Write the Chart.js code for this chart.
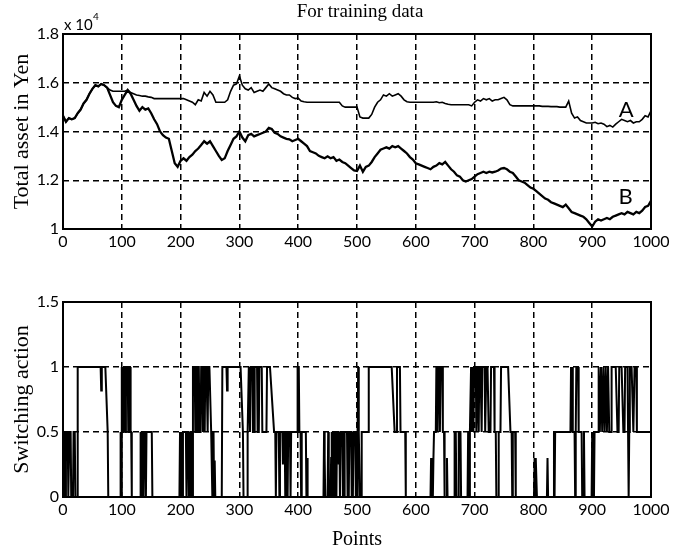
<!DOCTYPE html>
<html><head><meta charset="utf-8">
<script src="https://cdn.jsdelivr.net/npm/chart.js@4/dist/chart.umd.min.js"></script>
<style>
html,body{margin:0;padding:0;background:#fff;width:690px;height:554px;overflow:hidden}
#c1{position:absolute;left:0;top:0}
#c2{position:absolute;left:0;top:260px}
</style></head><body>
<canvas id="c1" width="690" height="260"></canvas>
<canvas id="c2" width="690" height="294"></canvas>
<script>
// ---------- DATA ----------
const titleText = "For training data";
const xTicks = [0,100,200,300,400,500,600,700,800,900,1000];
const assetTicks = [1,1.2,1.4,1.6,1.8];          // x 10^4 Yen
const switchTicks = [0,0.5,1,1.5];
const sampleStep = 5;                              // points between samples of the asset series

// Series A (total asset, x10^4 Yen), sampled every 5 points from 0 to 1000
const seriesA = [
 1.465,1.44,1.455,1.45,1.455,1.475,1.49,1.515,1.53,1.555,
 1.575,1.59,1.585,1.595,1.59,1.58,1.57,1.565,1.565,1.565,
 1.565,1.565,1.57,1.56,1.555,1.55,1.548,1.545,1.545,1.542,
 1.54,1.535,1.535,1.535,1.535,1.535,1.535,1.535,1.535,1.535,
 1.535,1.535,1.53,1.525,1.52,1.51,1.53,1.525,1.56,1.545,
 1.565,1.55,1.52,1.52,1.52,1.52,1.53,1.565,1.59,1.595,
 1.628,1.59,1.575,1.57,1.58,1.56,1.565,1.57,1.565,1.58,
 1.595,1.58,1.575,1.57,1.565,1.555,1.55,1.55,1.54,1.535,
 1.537,1.525,1.522,1.52,1.52,1.52,1.52,1.52,1.52,1.52,
 1.52,1.52,1.52,1.52,1.52,1.505,1.50,1.50,1.50,1.50,
 1.50,1.46,1.455,1.455,1.455,1.47,1.50,1.52,1.53,1.55,
 1.545,1.555,1.545,1.55,1.555,1.545,1.53,1.522,1.52,1.52,
 1.52,1.52,1.52,1.52,1.52,1.52,1.52,1.522,1.518,1.52,
 1.515,1.512,1.51,1.51,1.51,1.51,1.51,1.51,1.51,1.505,
 1.52,1.53,1.525,1.535,1.53,1.535,1.525,1.53,1.53,1.535,
 1.54,1.53,1.51,1.505,1.505,1.505,1.505,1.505,1.505,1.505,
 1.505,1.505,1.505,1.503,1.503,1.503,1.502,1.502,1.502,1.50,
 1.50,1.50,1.525,1.475,1.455,1.46,1.445,1.44,1.435,1.435,
 1.435,1.438,1.432,1.435,1.43,1.42,1.425,1.418,1.43,1.44,
 1.45,1.445,1.44,1.445,1.435,1.44,1.44,1.45,1.465,1.46,
 1.485
];
// Series B (total asset, x10^4 Yen), sampled every 5 points from 0 to 1000
const seriesB = [
 1.465,1.44,1.455,1.45,1.455,1.475,1.49,1.515,1.53,1.555,
 1.575,1.59,1.585,1.595,1.59,1.58,1.55,1.52,1.505,1.50,
 1.53,1.55,1.57,1.555,1.53,1.505,1.485,1.50,1.49,1.495,
 1.475,1.45,1.43,1.40,1.385,1.375,1.37,1.32,1.27,1.255,
 1.28,1.29,1.28,1.295,1.305,1.32,1.33,1.345,1.36,1.35,
 1.36,1.34,1.32,1.30,1.283,1.29,1.32,1.345,1.37,1.38,
 1.40,1.375,1.36,1.385,1.39,1.38,1.385,1.39,1.395,1.40,
 1.415,1.41,1.395,1.39,1.38,1.375,1.37,1.368,1.36,1.365,
 1.37,1.36,1.35,1.34,1.32,1.315,1.31,1.30,1.295,1.29,
 1.298,1.29,1.295,1.28,1.285,1.275,1.27,1.26,1.25,1.24,
 1.238,1.26,1.235,1.255,1.26,1.275,1.295,1.31,1.325,1.33,
 1.335,1.33,1.34,1.335,1.34,1.33,1.32,1.31,1.295,1.285,
 1.27,1.265,1.26,1.255,1.25,1.245,1.255,1.26,1.27,1.265,
 1.275,1.26,1.245,1.235,1.22,1.215,1.20,1.195,1.20,1.205,
 1.215,1.225,1.23,1.235,1.23,1.235,1.232,1.235,1.24,1.248,
 1.25,1.245,1.235,1.23,1.215,1.20,1.195,1.19,1.18,1.17,
 1.165,1.155,1.145,1.135,1.125,1.12,1.11,1.105,1.10,1.095,
 1.09,1.10,1.085,1.07,1.065,1.06,1.055,1.05,1.04,1.025,
 1.01,1.03,1.04,1.035,1.04,1.045,1.04,1.05,1.055,1.06,
 1.065,1.06,1.07,1.065,1.06,1.07,1.065,1.075,1.09,1.095,
 1.115
];
// Switching action: points (x) and values (y)
const switchPts = [0,1,3,4,5,8,9,10,11,13,14,17,18,20,21,24,25,64,65,66,72,76,77,97,98,99,100,101,102,103,104,106,107,110,111,112,114,115,116,117,131,132,133,134,136,137,138,140,141,142,151,152,198,199,200,201,203,204,209,210,211,213,214,216,217,219,220,221,224,225,226,228,229,231,232,234,235,237,238,239,241,242,244,246,247,249,252,253,254,255,256,257,258,259,270,271,278,279,280,302,306,307,313,314,316,318,319,322,323,325,326,330,331,333,334,338,339,346,347,352,359,361,362,363,367,368,369,373,374,375,377,378,379,381,382,383,386,387,388,398,399,401,402,404,405,406,413,414,415,416,443,444,445,446,450,451,452,455,456,457,458,459,461,462,463,464,465,466,468,469,470,471,472,475,476,478,479,483,484,486,487,490,491,493,494,497,498,500,501,502,503,505,507,508,519,520,559,564,567,568,573,574,582,583,625,626,627,628,629,630,631,634,635,637,638,640,641,642,645,646,648,649,652,653,654,665,666,668,669,672,673,676,677,688,689,691,692,694,695,697,698,699,702,703,705,707,708,710,712,713,717,718,720,722,724,727,728,733,734,736,737,740,741,744,745,757,761,763,764,765,769,770,801,802,803,804,806,823,824,825,834,835,836,837,863,864,865,866,867,870,871,872,873,876,877,882,883,885,886,887,899,900,901,902,903,904,910,911,913,915,917,919,921,923,925,927,929,932,933,940,943,945,946,950,953,955,956,960,961,962,963,964,967,970,972,975,976,1000];
const switchVals = [0,0.5,0.5,0,0.5,0.5,0,0,0.5,0.5,0,0,0.5,0.5,0,0,1,1,0.82,1,1,0.5,0,0,0.5,0,1,0.5,1,0.5,1,0.5,1,1,0.5,1,1,0.5,0.5,0,0,0.5,0,0.5,0.5,0,0.5,0.5,0,0.5,0.5,0,0,0.5,0,0.5,0,0.5,0.5,0,0.5,0.5,0,0,0.5,0.5,0,1,1,0.5,1,0.5,1,1,0.5,0.5,1,1,0.5,1,0.5,1,1,0.5,1,1,0.5,0.5,0,0.5,0.5,0,0.28,0,0,1,1,0.82,1,1,0.5,0,0,0.5,1,0.5,1,1,0.5,0.5,1,1,0.5,0.5,1,1,0.5,0.5,1,1,0.5,0.5,0,0.5,0.5,0,0.5,0.5,0.25,0.5,0.5,0,0.5,0.5,0,0.5,0.5,0,0.5,0.5,1,1,0.5,0.5,0,0.5,0.5,0,0.3,0,0,0.5,0.3,0,0,0.5,0,0,0.3,0.5,0,0.5,0.5,0,0.3,0.5,0,0.5,0.5,0.25,0.5,0,0.5,0.5,0,0,0.5,0.5,0,0,0.5,0.5,0,0,0.5,0.5,0,0,0.5,1,0.5,0,0,0.5,0.5,1,1,0.5,0.5,1,1,0.5,0.5,0,0,0.3,0,0.3,0,0.3,0.5,0.5,1,0.5,1,1,0.5,1,1,0.5,0.5,0,0,0.3,0,0,0.5,0.5,0,0,0.5,0.5,0,0,0.5,0,0.5,1,0.5,1,0.5,1,1,0.5,1,0.5,1,1,0.5,1,1,0.5,1,1,0.5,0.5,1,1,0.5,0.5,0,0,0.5,0.5,1,1,0.5,0.5,0,0.5,0.5,0,0,0.3,0,0.3,0,0,0.3,0,0,0.5,0,0.5,0.5,1,0.5,1,0.5,0.5,0,0.5,1,1,0.5,0.5,0,0,0.5,0,0,0.5,0,0.5,0,0.5,0.5,1,0.5,1,0.5,1,0.5,1,0.5,1,0.5,0.5,1,1,0.5,0.5,1,1,0.5,0.5,1,1,0.5,0,0.5,1,1,0.5,1,1,0.5,0.5];
const labelA = "A", labelB = "B";

// ---------- BUILD ----------
const toXY = (vals) => vals.map((v, i) => ({x: i * sampleStep, y: v}));
const switchData = switchPts.map((p, i) => ({x: p, y: switchVals[i]}));

const TICK_FONT = {family: "Lato, 'DejaVu Sans', sans-serif", size: 16};
const SERIF = "'Liberation Serif', 'Times New Roman', serif";

const boxPlugin = {
  id: 'box',
  afterDatasetsDraw(chart) {
    const {ctx, chartArea: a} = chart;
    ctx.save();
    ctx.strokeStyle = '#000'; ctx.lineWidth = 2; ctx.setLineDash([]);
    ctx.strokeRect(a.left, a.top, a.right - a.left, a.bottom - a.top);
    ctx.restore();
  }
};

const topText = {
  id: 'topText',
  afterDraw(chart) {
    const {ctx, scales: {x, y}} = chart;
    ctx.save();
    ctx.fillStyle = '#000';
    ctx.textAlign = 'center'; ctx.textBaseline = 'middle';
    ctx.font = "19px " + SERIF;
    ctx.fillText(titleText, 360, 12);
    ctx.textAlign = 'left'; ctx.textBaseline = 'alphabetic';
    ctx.font = "15px " + TICK_FONT.family;
    ctx.fillText("x 10", 64, 30);
    ctx.font = "10px " + TICK_FONT.family;
    ctx.fillText("4", 93, 20);
    ctx.font = "22px " + TICK_FONT.family;
    ctx.textAlign = 'center'; ctx.textBaseline = 'middle';
    ctx.fillText(labelA, x.getPixelForValue(958), y.getPixelForValue(1.488));
    ctx.fillText(labelB, x.getPixelForValue(957), y.getPixelForValue(1.13));
    ctx.restore();
  }
};

function xScale(withTitle) {
  return {
    type: 'linear', min: 0, max: 1000,
    afterBuildTicks: s => { s.ticks = xTicks.map(v => ({value: v})); },
    ticks: {color: '#000', font: TICK_FONT, padding: 3, maxRotation: 0, autoSkip: false, callback: v => String(v)},
    grid: {color: '#000', lineWidth: 1.5, drawTicks: false},
    border: {display: false, dash: [6, 4]},
    title: withTitle ? {display: true, text: 'Points', color: '#000', font: {family: SERIF, size: 20}, padding: {top: 0, bottom: 2}} : {display: false},
    afterFit: s => { s.height = withTitle ? 57 : 31; }
  };
}
function yScale(min, max, ticks, titleTxt) {
  return {
    type: 'linear', min: min, max: max,
    afterBuildTicks: s => { s.ticks = ticks.map(v => ({value: v})); },
    ticks: {color: '#000', font: TICK_FONT, padding: 4, callback: v => String(v)},
    grid: {color: '#000', lineWidth: 1.5, drawTicks: false},
    border: {display: false, dash: [6, 4]},
    title: {display: true, text: titleTxt, color: '#000', font: {family: SERIF, size: 22}, padding: {top: 9, bottom: 0}},
    afterFit: s => { s.width = 63; }
  };
}

new Chart(document.getElementById('c1'), {
  type: 'scatter',
  data: {datasets: [
    {label: labelA, data: toXY(seriesA), showLine: true, borderColor: '#000', borderWidth: 1.6, pointRadius: 0, tension: 0},
    {label: labelB, data: toXY(seriesB), showLine: true, borderColor: '#000', borderWidth: 2.3, pointRadius: 0, tension: 0}
  ]},
  options: {
    responsive: false, animation: false, devicePixelRatio: 1,
    layout: {padding: {top: 34, right: 39, left: 0, bottom: 0}},
    plugins: {legend: {display: false}, tooltip: {enabled: false}},
    scales: {x: xScale(false), y: yScale(1, 1.8, assetTicks, 'Total asset in Yen')}
  },
  plugins: [boxPlugin, topText]
});

new Chart(document.getElementById('c2'), {
  type: 'scatter',
  data: {datasets: [
    {label: 'Switching action', data: switchData, showLine: true, borderColor: '#000', borderWidth: 2, pointRadius: 0, tension: 0}
  ]},
  options: {
    responsive: false, animation: false, devicePixelRatio: 1,
    layout: {padding: {top: 42, right: 39, left: 0, bottom: 0}},
    plugins: {legend: {display: false}, tooltip: {enabled: false}},
    scales: {x: xScale(true), y: yScale(0, 1.5, switchTicks, 'Switching action')}
  },
  plugins: [boxPlugin]
});
</script>
</body></html>
